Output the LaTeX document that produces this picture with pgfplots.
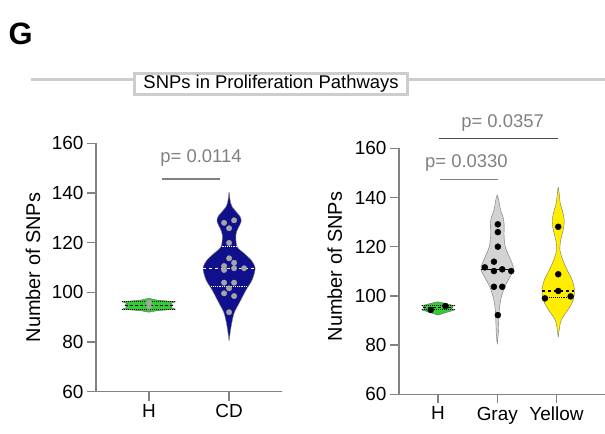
\documentclass[border=0pt]{standalone}
\usepackage{fontspec}
\setmainfont{Liberation Sans}
\usepackage{pgfplots}
\pgfplotsset{compat=1.18}
\definecolor{cdnavy}{RGB}{16,16,140}
\definecolor{hgreen}{RGB}{50,205,50}
\definecolor{vgray}{RGB}{211,211,211}
\definecolor{vyellow}{RGB}{255,238,0}
\definecolor{dotgray}{RGB}{165,165,165}
\definecolor{axgray}{RGB}{130,130,130}
\definecolor{pgray}{RGB}{128,128,128}
\definecolor{boxgray}{RGB}{205,205,205}
\pgfplotsset{
  violinax/.style={
    scale only axis,
    axis lines=left,
    axis line style={axgray,line width=1.3bp,-},
    ymin=60, ymax=160, ytick={60,80,...,160},
    xmin=-0.66,
    xtick={0,1,2},
    tick style={axgray,line width=1.3bp},
    tick align=outside,
    major tick length=9bp,
    tick label style={font=\fontsize{19}{21}\selectfont, black},
    /pgf/number format/assume math mode=true,
    ylabel={Number of SNPs},
    label style={font=\fontsize{20}{22}\selectfont},
    clip=false,
    enlargelimits=false,
  },
}
\begin{document}
\begin{tikzpicture}
\useasboundingbox (0,0) rectangle (605bp,434bp);
% header
\node[anchor=base west, inner sep=0pt, font=\bfseries\fontsize{31}{33}\selectfont] at (8.5bp,389bp) {G};
\draw[boxgray, line width=2.5bp] (30.7bp,354.7bp) -- (605bp,354.7bp);
\node[draw=boxgray, line width=3.2bp, fill=white, minimum width=273bp, minimum height=21bp, inner sep=0pt, font=\fontsize{18.5}{20}\selectfont] at (271bp,350.3bp) {SNPs in Proliferation Pathways};

% left axis
\begin{axis}[violinax,
  at={(96bp,42.3bp)}, width=186bp, height=248.4bp,
  xmax=1.66, xticklabels={H,CD},
  ylabel style={at={(axis description cs:-0.339,0.5)}, anchor=center},
]
% H violin
\addplot[fill=hgreen, draw=black!60, line width=0.4bp] coordinates {
(0,92.0) (0.1,92.6) (0.333,93.2) (0.27,94.0) (0.30,94.8) (0.27,95.5) (0.333,96.2) (0.1,96.9) (0,97.6)
(-0.1,96.9) (-0.333,96.2) (-0.27,95.5) (-0.30,94.8) (-0.27,94.0) (-0.333,93.2) (-0.1,92.6)} -- cycle;
\addplot[black, densely dashed, line width=1bp] coordinates {(-0.30,94.8) (0.30,94.8)};
\addplot[black, densely dotted, line width=1bp] coordinates {(-0.33,93.2) (0.33,93.2)};
\addplot[black, densely dotted, line width=1bp] coordinates {(-0.33,96.2) (0.33,96.2)};
\addplot[only marks, mark=*, mark size=2.7bp, mark options={fill=dotgray, draw=dotgray}] coordinates {(0,95.8) (0,94.2)};
% CD violin
\addplot[fill=cdnavy, draw=black!50, line width=0.4bp, smooth, tension=0.5] coordinates {
(1,80.4) (1.025,86.2) (1.0625,91.6) (1.125,95.6) (1.2125,101) (1.2875,105) (1.325,109.7) (1.275,113) (1.1875,115.7) (1.1,118.4) (1.084,123.1) (1.1125,125.8) (1.15,128.4) (1.1375,130.5) (1.0375,134.5) (1.0125,137.2) (1,140.3)
(0.9875,137.2) (0.9625,134.5) (0.8625,130.5) (0.85,128.4) (0.8875,125.8) (0.916,123.1) (0.9,118.4) (0.8125,115.7) (0.725,113) (0.675,109.7) (0.7125,105) (0.7875,101) (0.875,95.6) (0.9375,91.6) (0.975,86.2) (1,80.4)};
\addplot[white, dashed, line width=1.2bp] coordinates {(0.675,109.7) (1.325,109.7)};
\addplot[white, densely dotted, line width=1.2bp] coordinates {(0.917,118.4) (1.083,118.4)};
\addplot[white, densely dotted, line width=1.2bp] coordinates {(0.77,102.3) (1.23,102.3)};
\addplot[only marks, mark=*, mark size=2.7bp, mark options={fill=dotgray, draw=dotgray}] coordinates {
(0.9375,128.0) (1.0625,129.0) (1,125.8) (1,119.9) (1,113.7) (1.0625,111.9) (0.9375,110.6) (0.9375,109.0) (1.0625,109.7) (1.1875,109.7) (0.9375,103.9) (1.0625,103.9) (1,101.6) (0.9375,99.6) (1.0625,98.5) (1,92.0)};
% p-value
\addplot[pgray, line width=1.2bp] coordinates {(0.166,145.6) (0.8875,145.6)};
\node[pgray, font=\fontsize{18.5}{20}\selectfont] at (axis cs:0.65,154) {p= 0.0114};
\end{axis}

% right axis
\begin{axis}[violinax,
  at={(399bp,39.7bp)}, width=206bp, height=246bp,
  xmax=2.82, xticklabels={H,Gray,Yellow},
  ylabel style={at={(axis description cs:-0.312,0.519)}, anchor=center},
]
% H violin
\addplot[fill=hgreen, draw=black!60, line width=0.4bp] coordinates {
(0,92.2) (0.08,92.8) (0.276,94.3) (0.22,94.8) (0.25,95.2) (0.22,95.6) (0.276,96.0) (0.08,97.2) (0,97.6)
(-0.08,97.2) (-0.276,96.0) (-0.22,95.6) (-0.25,95.2) (-0.22,94.8) (-0.276,94.3) (-0.08,92.8)} -- cycle;
\addplot[black, densely dashed, line width=1bp] coordinates {(-0.25,95.2) (0.25,95.2)};
\addplot[black, densely dotted, line width=1bp] coordinates {(-0.27,94.3) (0.27,94.3)};
\addplot[black, densely dotted, line width=1bp] coordinates {(-0.27,96.0) (0.27,96.0)};
\addplot[only marks, mark=*, mark size=3bp, mark options={fill=black, draw=black}] coordinates {(-0.124,94.3) (0.124,95.9)};
% Gray violin
\addplot[fill=vgray, draw=black!55, line width=0.4bp, smooth, tension=0.5] coordinates {
(1,80.3) (1.017,84.8) (1.025,90.2) (1.039,95.6) (1.071,99.7) (1.127,103.7) (1.216,107.8) (1.274,110.5) (1.262,112.6) (1.203,115.9) (1.135,120) (1.115,124.1) (1.115,129.5) (1.096,132.2) (1.056,134.9) (1,141)
(0.944,134.9) (0.904,132.2) (0.885,129.5) (0.885,124.1) (0.865,120) (0.797,115.9) (0.738,112.6) (0.726,110.5) (0.784,107.8) (0.873,103.7) (0.929,99.7) (0.961,95.6) (0.975,90.2) (0.983,84.8) (1,80.3)};
\addplot[black, line width=1bp] coordinates {(0.726,110.8) (1.274,110.8)};
\addplot[only marks, mark=*, mark size=3bp, mark options={fill=black, draw=black}] coordinates {
(1.01,129.1) (1.01,125.9) (1.01,120.0) (0.944,113.9) (0.79,111.6) (0.944,110.1) (1.084,110.8) (1.236,110.1) (0.944,103.7) (1.084,103.7) (1.01,92.2)};
% Yellow violin
\addplot[fill=vyellow, draw=black!55, line width=0.4bp, smooth, tension=0.5] coordinates {
(2.03,83.2) (2.064,88.9) (2.114,91.6) (2.194,94.3) (2.283,98.3) (2.304,102.4) (2.266,106.4) (2.182,110.5) (2.106,114.6) (2.059,118.7) (2.072,122.7) (2.114,126.8) (2.131,130.9) (2.098,134.9) (2.064,137.6) (2.03,144.1)
(1.996,137.6) (1.962,134.9) (1.929,130.9) (1.946,126.8) (1.988,122.7) (2.001,118.7) (1.954,114.6) (1.878,110.5) (1.794,106.4) (1.756,102.4) (1.777,98.3) (1.866,94.3) (1.946,91.6) (1.996,88.9) (2.03,83.2)};
\addplot[black, dashed, line width=1.1bp] coordinates {(1.756,102.0) (2.304,102.0)};
\addplot[black, densely dotted, line width=1.1bp] coordinates {(1.80,99.3) (2.27,99.3)};
\addplot[only marks, mark=*, mark size=3bp, mark options={fill=black, draw=black}] coordinates {
(2.03,128.1) (2.03,108.8) (2.03,102.0) (1.805,99.0) (2.24,99.8)};
% p-values
\addplot[black!70, line width=1.2bp] coordinates {(0.01,164.1) (2.02,164.1)};
\node[pgray, font=\fontsize{18.5}{20}\selectfont] at (axis cs:1.09,170.2) {p= 0.0357};
\addplot[pgray, line width=1.2bp] coordinates {(0.03,147.4) (1.01,147.4)};
\node[pgray, font=\fontsize{18.5}{20}\selectfont] at (axis cs:0.48,153.9) {p= 0.0330};
\end{axis}
\end{tikzpicture}
\end{document}
